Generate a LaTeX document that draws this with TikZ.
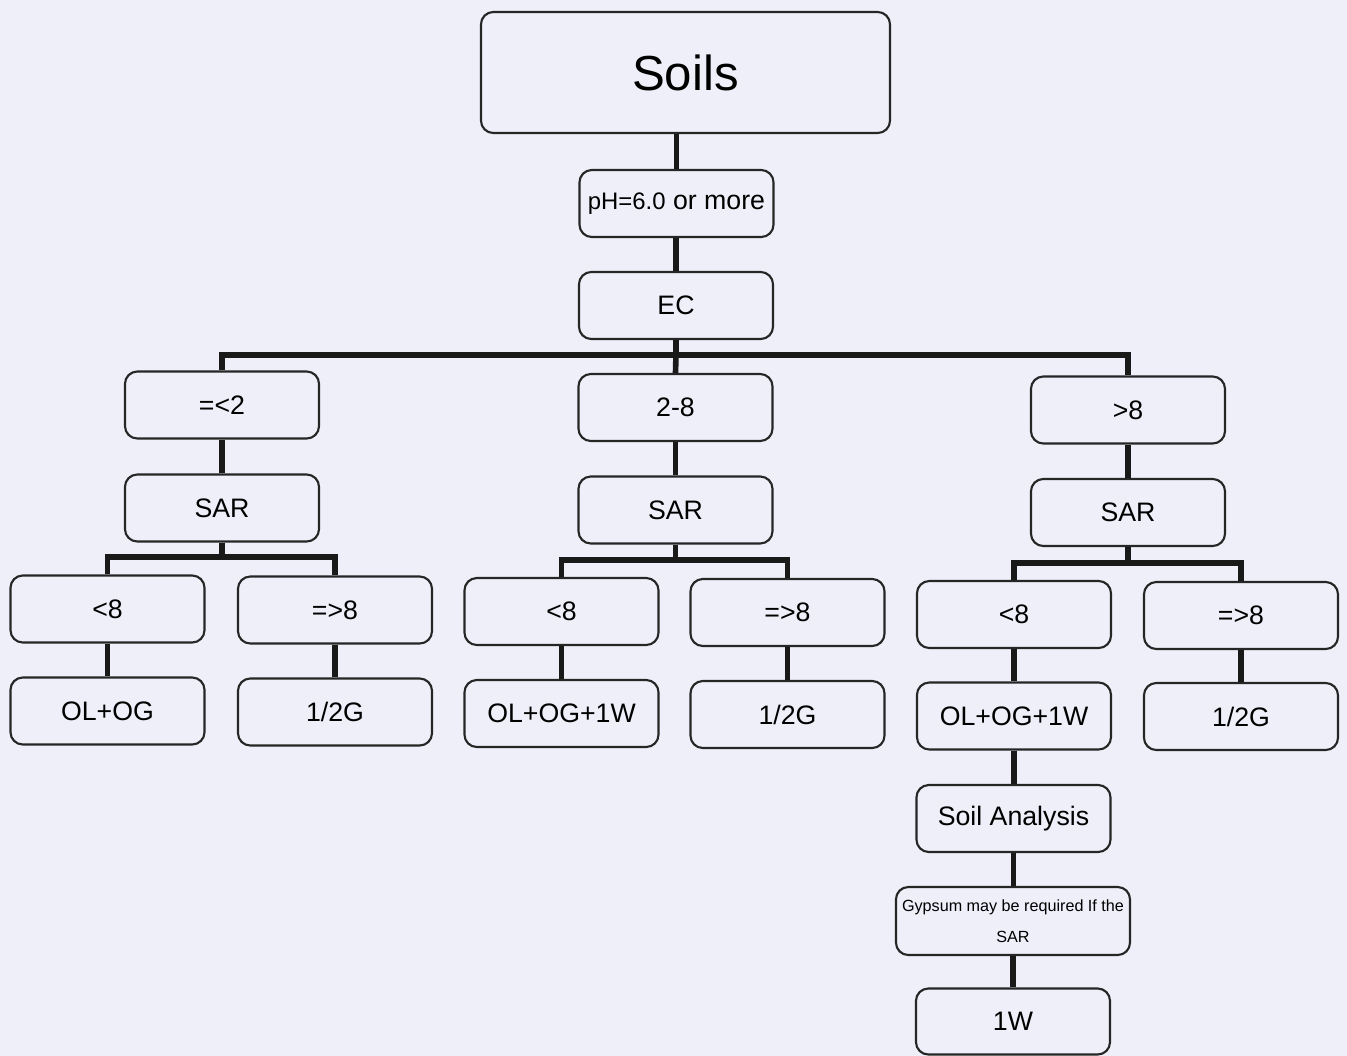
\documentclass[tikz,border=0pt]{standalone}
\usepackage{fontspec}
\setmainfont{Liberation Sans}
\definecolor{paper}{RGB}{238,239,248}
\tikzset{
	box/.style={draw=black!85, line width=0.6pt, rounded corners=3.5pt, fill=paper, minimum width=1.94cm, minimum height=0.67cm, inner sep=0pt, align=center, font=\fontsize{7.6}{9}\selectfont},
	link/.style={draw=black!90, line width=1.6pt}
}
\begin{document}
\begin{tikzpicture}
	\fill[paper] (0, 0) rectangle (13.47, -10.56);
	\useasboundingbox (0, 0) rectangle (13.47, -10.56);
	% boxes
	\node[box, minimum width=4.09cm, minimum height=1.21cm, font=\fontsize{14}{16}\selectfont] (soils) at (6.855, -0.725){Soils};
	\node[box] (ph) at (6.765, -2.035){{\fontsize{6.8}{8}\selectfont pH=6.0} or more};
	\node[box] (ec) at (6.76, -3.055){EC};
	\node[box] (lo) at (2.22, -4.05){=<2};
	\node[box] (mid) at (6.755, -4.075){2-8};
	\node[box] (hi) at (11.28, -4.10){>8};
	\node[box] (sarlo) at (2.22, -5.08){SAR};
	\node[box] (sarmid) at (6.755, -5.10){SAR};
	\node[box] (sarhi) at (11.28, -5.125){SAR};
	\node[box] (aL) at (1.075, -6.09){<8};
	\node[box] (aR) at (3.35, -6.10){=>8};
	\node[box] (bL) at (5.615, -6.115){<8};
	\node[box] (bR) at (7.875, -6.125){=>8};
	\node[box] (cL) at (10.14, -6.145){<8};
	\node[box] (cR) at (12.41, -6.155){=>8};
	\node[box] (aL2) at (1.075, -7.11){OL+OG};
	\node[box] (aR2) at (3.35, -7.12){1/2G};
	\node[box] (bL2) at (5.615, -7.135){OL+OG+1W};
	\node[box] (bR2) at (7.875, -7.145){1/2G};
	\node[box] (cL2) at (10.14, -7.16){OL+OG+1W};
	\node[box] (cR2) at (12.41, -7.165){1/2G};
	\node[box] (analysis) at (10.135, -8.185){Soil Analysis};
	\node[box, minimum width=2.34cm, minimum height=0.68cm, font=\fontsize{4.6}{8.8}\selectfont] (gyp) at (10.13, -9.21){Gypsum may be required If the\\SAR};
	\node[box, minimum height=0.66cm] (onew) at (10.13, -10.215){1W};
	% joints
	\coordinate (jec) at (6.76, -3.55);
	\coordinate (jlo) at (2.22, -5.57);
	\coordinate (jmid) at (6.755, -5.60);
	\coordinate (jhi) at (11.28, -5.63);
	% links
	\draw[link] (ph.north) -- (ph.north |- soils.south);
	\draw[link] (ec.north) -- (ec.north |- ph.south);
	\draw[link] (ec.south) -- (jec) -- (mid.north);
	\draw[link] (lo.north) |- (jec) -| (hi.north);
	\draw[link] (sarlo.north) -- (lo.south);
	\draw[link] (sarmid.north) -- (mid.south);
	\draw[link] (sarhi.north) -- (hi.south);
	\draw[link] (sarlo.south) -- (jlo);
	\draw[link] (aL.north) |- (jlo) -| (aR.north);
	\draw[link] (sarmid.south) -- (jmid);
	\draw[link] (bL.north) |- (jmid) -| (bR.north);
	\draw[link] (sarhi.south) -- (jhi);
	\draw[link] (cL.north) |- (jhi) -| (cR.north);
	\draw[link] (aL.south) -- (aL2.north);
	\draw[link] (aR.south) -- (aR2.north);
	\draw[link] (bL.south) -- (bL2.north);
	\draw[link] (bR.south) -- (bR2.north);
	\draw[link] (cL.south) -- (cL2.north);
	\draw[link] (cR.south) -- (cR2.north);
	\draw[link] (cL2.south) -- (analysis.north -| cL2.south);
	\draw[link] (analysis.south) -- (gyp.north -| analysis.south);
	\draw[link] (gyp.south) -- (onew.north);
\end{tikzpicture}
\end{document}
